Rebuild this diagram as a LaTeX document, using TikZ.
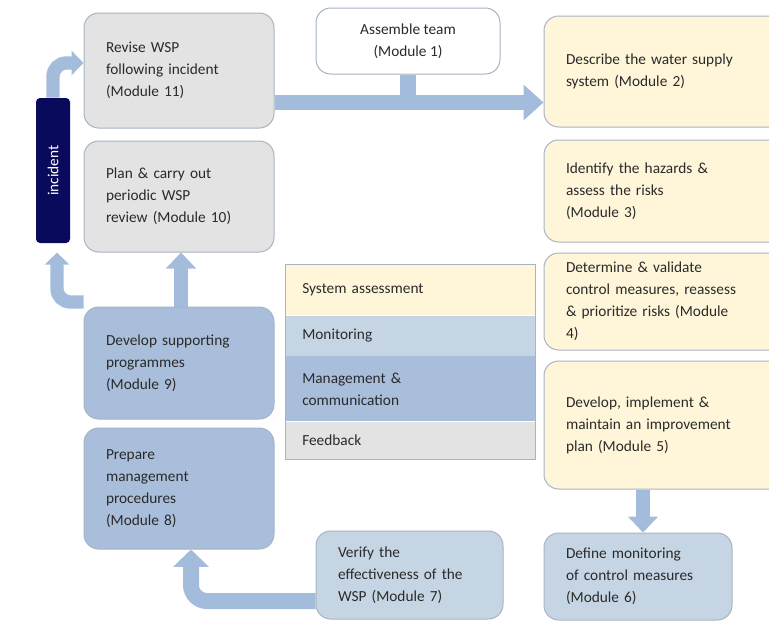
\documentclass[tikz,border=0pt]{standalone}
\usepackage{fontspec}
\setmainfont{Carlito}
\usepackage{xcolor}
\definecolor{textdark}{HTML}{2A2A2A}
\definecolor{edgegray}{HTML}{A6B4C4}
\definecolor{feedbk}{HTML}{E3E3E3}
\definecolor{sysyellow}{HTML}{FFF6D9}
\definecolor{monblue}{HTML}{C6D5E4}
\definecolor{mgmtblue}{HTML}{A8BEDB}
\definecolor{flowblue}{HTML}{A4BCDB}
\definecolor{navy}{HTML}{0A0A5C}
\usepackage{tikz}
\usetikzlibrary{arrows.meta,positioning,calc}
\newcommand{\modfont}{\fontsize{11.5}{16.5}\selectfont}

\begin{document}
\begin{tikzpicture}[x=0.75pt, y=-0.75pt,
    module/.style={draw=edgegray, line width=0.75pt, rounded corners=11pt, text=textdark, font=\modfont, align=left, inner xsep=16.5pt, inner ysep=3pt},
    leftcol/.style={module, text width=109.5pt},
    rightcol/.style={module, text width=151.5pt},
    legrow/.style={text=textdark, font=\modfont, align=left, text width=162pt, inner xsep=12.75pt, inner ysep=2pt},
    flow/.style={draw=flowblue, line width=11pt, rounded corners=12pt, -{Triangle[length=13pt, width=26pt]}},
    thinflow/.style={draw=flowblue, line width=10pt, rounded corners=10pt, -{Triangle[length=9pt, width=18pt]}}
  ]
  \useasboundingbox (0,0) rectangle (769,621);

  \node[leftcol, fill=feedbk, minimum height=86.25pt] (m11) at (179,70.5) {Revise WSP\\following incident\\(Module 11)};
  \node[leftcol, fill=feedbk, minimum height=83.25pt] (m10) at (179,196.5) {Plan \& carry out\\periodic WSP\\review (Module 10)};
  \node[leftcol, fill=mgmtblue, minimum height=84pt] (m9) at (179,363) {Develop supporting\\programmes\\(Module 9)};
  \node[leftcol, fill=mgmtblue, minimum height=90.75pt] (m8) at (179,488.5) {Prepare\\management\\procedures\\(Module 8)};

  \node[module, fill=white, align=center, minimum width=138pt, minimum height=49.5pt] (m1) at (408,41) {Assemble team\\(Module 1)};

  \node[rightcol, fill=sysyellow, minimum height=83.25pt] (m2) at (667,71.5) {Describe the water supply\\system (Module 2)};
  \node[rightcol, fill=sysyellow, minimum height=76.5pt] (m3) at (667,191) {Identify the hazards \&\\assess the risks\\(Module 3)};
  \node[rightcol, fill=sysyellow, minimum height=72.75pt] (m4) at (667,301.5) {Determine \& validate\\control measures, reassess\\\& prioritize risks (Module\\4)};
  \node[rightcol, fill=sysyellow, minimum height=96pt] (m5) at (667,425) {Develop, implement \&\\maintain an improvement\\plan (Module 5)};

  \node[module, fill=monblue, text width=108pt, minimum height=65.25pt] (m6) at (638,576.5) {Define monitoring\\of control measures\\(Module 6)};
  \node[module, fill=monblue, text width=107.25pt, minimum height=66pt] (m7) at (409.5,575) {Verify the\\effectiveness of the\\WSP (Module 7)};

  \node[fill=navy, rounded corners=3pt, minimum width=25.5pt, minimum height=108.75pt, inner sep=0pt,
        label={[rotate=90, text=white, font=\modfont]center:incident}] (incident) at (53,170.5) {};

  \node[legrow, fill=sysyellow, minimum height=38.25pt, anchor=north west] (leg1) at (285,264) {System assessment};
  \node[legrow, fill=monblue, minimum height=30pt, below=0pt of leg1] (leg2) {Monitoring};
  \node[legrow, fill=mgmtblue, minimum height=48.75pt, below=0pt of leg2] (leg3) {Management \&\\communication};
  \node[legrow, fill=feedbk, minimum height=27.75pt, below=0pt of leg3] (leg4) {Feedback};
  \draw[edgegray, line width=0.75pt] (leg1.north west) rectangle (leg4.south east);

  \draw[flow, line width=11.5pt, -{Triangle[length=15pt, width=26pt]}] (m11.east |- 0,102.5) -- (m2.west |- 0,102.5);
  \draw[flowblue, line width=12pt] (m1.south) -- (m1.south |- 0,102.5);
  \draw[thinflow] (incident.north) |- (m11.west |- 0,63);
  \draw[thinflow, shorten >=7pt] (m9.west |- 0,302) -| (incident.south -| 57,0);
  \draw[thinflow, -{Triangle[length=12pt, width=22pt]}] (m9.north -| 181,0) -- (m10.south -| 181,0);
  \draw[flow, line width=12pt] (m7.west |- 0,601) -| (m8.south -| 191,0);
  \draw[thinflow, -{Triangle[length=12pt, width=22pt]}] (m5.south -| 643,0) -- (m6.north -| 643,0);
\end{tikzpicture}
\end{document}
